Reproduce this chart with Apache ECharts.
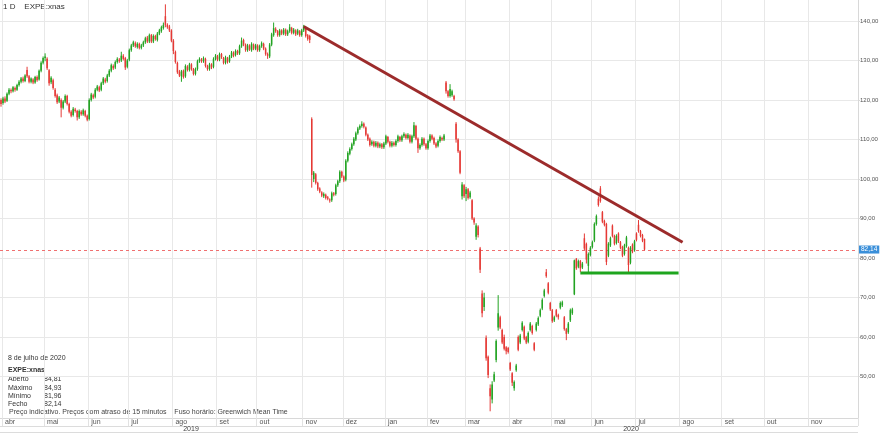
<!DOCTYPE html>
<html>
<head>
<meta charset="utf-8">
<script src="https://cdn.jsdelivr.net/npm/echarts@6/dist/echarts.min.js"></script>
<style>
html,body{margin:0;padding:0;background:#fff;}
#chart{width:880px;height:433px;}
</style>
</head>
<body>
<div id="chart"></div>
<script>
// ---- data: daily candles [open, close, low, high] ----
const mar19 = [[120.0,119.0,118.3,120.4]];
const apr19 = [[119.2,120.4,118.8,120.8],[120.4,119.6,119.2,120.9],[119.8,121.6,119.5,121.9],[121.6,122.6,121.2,123.0],[122.5,122.2,121.7,122.9],[122.2,123.2,121.9,123.5],[123.0,122.6,122.1,123.4],[122.6,123.8,122.3,124.1],[123.8,124.6,123.4,125.0],[124.6,125.4,124.2,125.8],[125.4,124.8,124.4,125.9],[124.8,126.2,124.5,126.5],[127.6,126.0,125.6,128.4],[126.0,124.6,124.2,126.3],[124.6,125.4,124.2,125.7],[125.2,124.4,124.0,125.5],[124.4,125.8,124.1,126.1],[125.8,125.0,124.6,126.2],[125.2,127.4,124.9,127.7],[127.4,129.4,127.0,129.8],[129.4,130.6,129.0,131.0]];
const may19 = [[130.6,131.0,129.8,131.8],[130.4,128.0,127.6,130.8],[127.5,124.2,123.6,127.8],[124.5,125.6,124.0,126.0],[125.0,123.0,122.6,125.4],[122.6,121.0,120.6,123.0],[121.2,119.4,119.0,121.6],[119.6,120.6,119.2,121.0],[120.0,118.0,115.6,120.4],[118.0,119.6,117.6,120.0],[119.6,121.0,119.2,121.4],[121.0,119.0,118.6,121.3],[119.0,117.0,116.6,119.3],[117.0,116.0,115.6,117.4],[116.2,117.8,115.8,118.2],[117.6,117.2,116.8,118.0],[117.2,115.6,114.8,117.5],[115.6,117.2,115.2,117.6],[117.0,116.4,116.0,117.4],[116.4,117.4,116.0,117.8],[117.2,116.0,115.6,117.5],[116.0,115.0,114.6,116.3]];
const jun19 = [[115.2,120.0,114.8,120.4],[120.0,121.4,119.6,121.8],[121.2,120.6,120.2,121.6],[120.8,122.6,120.4,123.0],[122.6,123.4,122.2,123.8],[123.2,122.4,122.0,123.6],[122.6,124.2,122.2,124.6],[124.2,125.4,123.8,125.8],[125.2,124.6,124.2,125.6],[124.8,126.2,124.4,126.6],[126.2,127.4,125.8,127.8],[127.4,128.8,127.0,129.2],[128.6,128.0,127.6,129.0],[128.2,129.6,127.8,130.0],[129.6,130.4,129.2,130.8],[130.2,129.8,129.4,130.6],[130.0,131.2,129.6,132.2],[131.2,130.4,130.0,131.6],[130.6,128.2,127.6,130.9],[128.4,130.0,128.0,130.4]];
const jul19 = [[130.2,132.6,129.8,133.0],[132.6,133.8,132.2,134.2],[133.8,134.6,133.4,135.0],[134.4,133.6,133.2,134.8],[133.4,134.2,133.0,134.6],[134.2,133.2,132.8,134.5],[133.2,133.8,132.8,134.2],[133.8,134.6,133.4,135.0],[134.6,135.6,134.2,136.0],[135.8,134.8,134.4,136.2],[134.8,136.4,134.4,136.8],[136.4,134.8,134.4,136.7],[134.8,136.2,134.4,136.6],[136.2,135.4,135.0,136.5],[135.2,136.8,134.8,137.2],[136.8,137.6,136.4,138.0],[137.4,138.4,137.0,138.8],[138.2,139.0,137.8,139.6],[141.2,139.0,138.4,144.2],[139.0,138.4,138.0,139.4],[138.6,137.6,137.2,139.0],[137.6,135.0,134.6,137.9]];
const aug19 = [[135.0,132.4,131.6,135.4],[132.2,129.6,129.2,132.5],[129.4,127.0,126.6,129.7],[127.2,126.2,125.8,127.6],[126.0,127.2,124.6,127.6],[127.4,125.8,125.4,127.7],[126.0,128.6,125.6,129.0],[128.4,127.6,127.2,128.8],[127.6,129.0,127.2,129.4],[129.0,127.8,127.4,129.3],[127.8,126.6,126.2,128.1],[126.6,127.8,126.2,128.2],[127.8,129.8,127.4,130.2],[129.8,130.4,129.4,130.8],[130.2,129.8,129.4,130.6],[129.8,130.6,129.4,131.0],[130.4,128.6,128.2,130.7],[128.6,127.8,127.4,128.9],[127.8,129.0,127.4,129.4],[129.0,128.2,127.8,129.3],[128.4,130.4,128.0,130.8],[130.4,131.2,130.0,131.6]];
const sep19 = [[131.0,130.2,129.8,131.4],[130.2,131.6,129.8,132.0],[131.6,130.8,130.4,131.9],[130.6,129.4,129.0,130.9],[129.4,130.8,129.0,131.2],[130.6,129.6,129.2,130.9],[129.8,131.0,129.4,131.4],[131.0,132.0,130.6,132.4],[132.0,131.2,130.8,132.3],[131.4,132.4,131.0,132.8],[132.4,131.8,131.4,132.7],[131.8,133.6,131.4,134.0],[133.6,135.0,133.2,135.8],[135.2,134.0,133.6,135.5],[134.0,132.6,132.2,134.3],[132.6,133.8,132.2,134.2],[133.8,132.8,132.4,134.1],[132.6,134.2,132.2,134.6],[134.0,133.0,132.6,134.3],[133.0,133.8,132.6,134.2]];
const oct19 = [[133.8,132.6,132.2,134.1],[132.6,133.6,132.2,134.0],[133.6,134.4,133.2,134.8],[134.2,133.0,132.6,134.5],[133.0,131.6,131.2,133.3],[131.6,131.2,130.4,132.0],[131.0,134.0,130.6,134.4],[134.0,136.6,133.6,137.0],[136.4,138.2,136.0,139.6],[138.0,137.4,137.0,138.4],[137.4,136.4,136.0,137.7],[136.4,137.6,136.0,138.0],[137.6,136.8,136.4,137.9],[136.8,137.8,136.4,138.2],[137.8,136.6,136.2,138.1],[136.6,137.4,136.2,137.8],[137.4,138.4,137.0,139.2],[138.2,137.0,136.6,138.5],[137.0,137.8,136.6,138.2],[137.6,136.6,136.2,137.9],[136.8,137.6,136.4,138.0],[137.4,136.4,136.0,137.7],[136.4,137.6,136.0,138.0]];
const nov19 = [[137.6,138.6,137.2,139.0],[138.2,136.2,135.8,138.5],[136.4,135.4,135.0,136.7],[136.2,135.2,134.4,136.5],[115.2,101.0,97.8,115.6],[100.0,101.6,99.2,102.0],[101.2,99.0,98.6,101.5],[99.0,97.4,97.0,99.3],[97.6,96.8,96.4,97.9],[96.6,95.8,95.4,96.9],[95.6,96.2,95.2,96.6],[96.0,95.2,94.8,96.3],[95.4,95.0,94.6,95.7],[94.8,94.6,94.0,95.1],[94.6,96.4,94.2,96.8],[96.4,96.0,95.6,96.7],[96.2,98.4,95.8,98.8],[98.4,99.4,98.0,99.8],[99.4,101.8,99.0,102.2],[101.8,100.6,100.2,102.1]];
const dec19 = [[100.6,99.6,99.2,100.9],[99.8,104.6,99.4,105.0],[104.6,106.6,104.2,107.0],[106.4,107.6,106.0,108.0],[107.6,108.8,107.2,109.2],[108.8,110.2,108.4,110.6],[110.0,111.6,109.6,112.0],[111.6,112.8,111.2,113.2],[112.8,113.4,112.4,113.8],[113.4,114.0,113.0,114.6],[114.0,113.2,112.8,114.3],[113.0,111.2,110.8,113.3],[111.2,110.0,109.6,111.5],[110.2,108.6,108.2,110.5],[108.8,109.4,108.4,109.8],[109.4,108.4,108.0,109.7],[108.4,109.2,108.0,109.6],[109.2,108.2,107.8,109.5],[108.2,108.8,107.8,109.2],[108.8,108.0,107.6,109.1],[108.0,109.0,107.6,109.4]];
const jan20 = [[109.0,110.8,108.6,111.2],[110.6,109.4,109.0,110.9],[109.4,108.4,108.0,109.7],[108.4,109.2,108.0,109.6],[109.2,108.6,108.2,109.5],[108.6,109.6,108.2,110.0],[109.6,110.8,109.2,111.2],[110.6,109.8,109.4,110.9],[109.8,110.8,109.4,111.2],[110.8,111.4,110.4,111.8],[111.2,110.4,110.0,111.5],[110.4,111.2,110.0,111.6],[111.0,109.4,109.0,111.3],[109.4,110.8,109.0,111.2],[110.8,113.6,110.4,114.4],[113.4,110.2,109.8,113.7],[110.2,107.8,106.6,110.5],[107.8,108.6,107.4,109.0],[108.6,110.2,108.2,110.6],[110.2,108.8,108.4,110.5],[108.8,107.8,107.4,109.1]];
const feb20 = [[107.8,109.6,107.4,110.0],[109.6,111.0,109.2,111.4],[111.0,110.2,109.8,111.3],[110.4,109.0,108.6,110.7],[109.0,108.2,107.8,109.3],[108.4,109.6,108.0,110.0],[109.6,110.6,109.2,111.0],[110.4,110.0,109.6,110.7],[110.0,111.0,109.6,111.4],[124.4,122.2,121.6,124.8],[122.2,121.0,120.6,122.5],[121.0,122.8,120.6,124.0],[121.2,122.2,120.8,122.6],[121.0,120.2,119.8,121.3],[114.0,110.0,109.2,114.4],[110.0,107.0,106.6,110.3],[107.0,101.6,101.2,107.3],[95.6,98.6,94.8,99.2],[98.4,95.6,95.2,98.7]];
const mar20 = [[96.2,97.4,94.4,98.0],[97.4,95.2,94.8,97.7],[95.4,96.6,95.0,97.0],[94.6,90.0,89.6,94.9],[90.0,89.0,88.4,90.3],[85.4,88.2,84.6,88.8],[88.0,85.8,85.2,88.3],[82.4,77.0,76.2,82.8],[71.0,66.0,65.0,71.8],[67.6,70.0,66.6,71.2],[59.8,54.6,54.0,60.4],[55.0,50.4,49.6,55.3],[47.0,45.0,41.2,48.0],[44.2,48.0,43.2,48.8],[49.0,50.6,48.6,51.2],[54.2,59.0,53.6,59.4],[62.4,66.0,61.6,70.6],[65.0,62.4,62.0,65.4],[61.8,58.6,58.2,62.1],[60.0,57.0,56.6,60.6],[57.4,56.4,55.6,57.7],[57.2,56.2,55.8,57.5]];
const apr20 = [[53.4,51.8,51.4,53.7],[50.8,48.4,47.6,51.1],[47.0,48.6,46.4,49.0],[51.6,52.8,51.2,53.2],[60.0,56.8,56.4,60.4],[58.6,60.4,58.2,60.8],[61.8,63.6,61.4,64.0],[62.6,59.6,59.2,62.9],[60.0,58.6,58.2,60.3],[58.8,61.0,58.4,61.4],[61.8,63.4,61.4,63.8],[62.8,61.0,60.6,63.1],[58.4,56.8,56.4,58.7],[61.8,63.4,61.4,63.8],[63.2,64.8,62.8,65.2],[65.4,66.8,65.0,67.2],[67.2,69.4,66.8,69.8],[70.4,71.8,70.0,72.2],[76.4,75.4,75.0,77.2],[73.6,71.2,70.8,73.9],[68.6,67.0,66.6,68.9]];
const may20 = [[66.8,64.0,63.6,67.1],[64.2,65.0,63.8,65.4],[66.8,65.4,65.0,67.1],[65.6,65.0,64.4,65.9],[67.4,68.6,67.0,69.0],[68.0,68.8,67.6,69.2],[65.0,62.0,61.6,65.3],[62.0,60.8,59.2,62.3],[61.2,63.4,60.8,63.8],[64.2,66.8,63.8,67.2],[66.0,67.0,65.6,67.4],[70.8,79.4,70.6,79.6],[79.8,77.4,77.0,80.0],[77.8,79.2,77.4,79.6],[79.2,77.4,76.4,79.5],[77.6,78.6,77.2,79.0],[85.0,82.4,82.0,86.2],[83.6,79.6,78.6,83.9],[78.0,81.0,76.4,81.4],[80.8,82.6,80.4,83.0]];
const jun20 = [[82.8,84.0,82.4,84.4],[84.4,88.6,84.0,89.0],[88.6,90.6,88.2,91.0],[95.0,93.4,93.0,95.6],[97.6,94.4,94.0,98.2],[91.6,89.2,88.8,91.9],[89.4,88.4,88.0,89.7],[88.6,79.0,78.2,88.9],[80.6,83.6,80.2,84.0],[83.2,85.0,82.8,85.4],[88.2,85.6,85.2,88.5],[85.6,83.6,83.2,85.9],[83.8,85.6,83.4,86.0],[86.2,84.2,83.8,86.5],[84.0,82.6,82.2,84.3],[82.8,80.6,80.2,83.1],[81.0,83.2,80.6,83.6],[83.0,85.2,82.6,85.6],[82.6,78.2,76.2,82.9],[78.8,82.6,78.4,83.0],[83.4,81.6,81.2,83.7],[82.0,84.2,81.6,84.6]];
const jul20 = [[86.2,84.6,84.2,86.5],[88.4,86.8,86.4,89.6],[86.8,85.6,85.2,87.1],[85.8,84.4,84.0,86.1],[84.81,82.14,81.96,84.93]];

// trading calendar
const startDate = '2019-03-29';
const axisDays = 428;
const holidays = ['2019-04-19','2019-05-27','2019-07-04','2019-09-02','2019-11-28','2019-12-25','2020-01-01','2020-01-20','2020-02-17','2020-04-10','2020-05-25','2020-07-03','2020-09-07','2020-11-26','2020-12-25'];
const monthNames = ['jan','fev','mar','abr','mai','jun','jul','ago','set','out','nov','dez'];
const yTicks = [50,60,70,80,90,100,110,120,130,140];

// overlays
const lastPrice = 82.14;
const trendLine = [['2019-11-01',138.6],['2020-08-04',84.0]];
const supportLine = [['2020-05-21',76.2],['2020-07-31',76.2]];

// info panel
const infoDate = '8 de julho de 2020';
const infoSymbol = 'EXPE:xnas';
const infoLabels = ['Aberto','Máximo','Mínimo','Fecho'];
const infoValues = ['84,81','84,93','81,96','82,14'];
const footNote = 'Preço indicativo. Preços com atraso de 15 minutos    Fuso horário: Greenwich Mean Time';
const titleText = '1 D    EXPE:xnas';
const yearLabels = ['2019','2020'];

const UP = '#22a322', DOWN = '#e53935';
const candles = [].concat(mar19,apr19,may19,jun19,jul19,aug19,sep19,oct19,nov19,dec19,jan20,feb20,mar20,apr20,may20,jun20,jul20);
const candleRows = candles.map((c, i) => [i, c[0], c[1], c[2], c[3]]);

function buildDays(){
  const out = [];
  const d = new Date(startDate + 'T00:00:00Z');
  while (out.length < axisDays) {
    const wd = d.getUTCDay();
    const s = d.toISOString().slice(0,10);
    if (wd !== 0 && wd !== 6 && holidays.indexOf(s) < 0) out.push(s);
    d.setUTCDate(d.getUTCDate() + 1);
  }
  return out;
}
const days = buildDays();
function isMonthStart(i){
  return i > 0 && days[i].slice(5,7) !== days[i-1].slice(5,7) && days[i] < '2020-12-01';
}

const FONT = 'Liberation Sans, Arial, sans-serif';
const fmt = v => v.toFixed(2).replace('.', ',');

function renderCandle(params, api){
  const i = api.value(0);
  const o = api.value(1), c = api.value(2), l = api.value(3), h = api.value(4);
  const pO = api.coord([i, o]), pC = api.coord([i, c]);
  const pL = api.coord([i, l]), pH = api.coord([i, h]);
  const band = api.size([1, 0])[0];
  const bw = band * 0.75;
  const xc = pO[0];
  const col = c >= o ? UP : DOWN;
  const top = Math.min(pO[1], pC[1]);
  const bot = Math.max(pO[1], pC[1]);
  return {
    type:'group',
    children:[
      {type:'line', shape:{x1:xc, y1:pH[1], x2:xc, y2:pL[1]}, style:{stroke:col, lineWidth:1}},
      {type:'rect', shape:{x:xc - bw/2, y:top, width:bw, height:Math.max(bot - top, 1)}, style:{fill:col}}
    ]
  };
}

// dashed last-price line drawn through the value axis
function renderPriceLine(params, api){
  const y = Math.round(api.coord([0, api.value(1)])[1]) + 0.5;
  const x0 = params.coordSys.x, x1 = params.coordSys.x + params.coordSys.width;
  return {type:'line', shape:{x1:x0, y1:y, x2:x1, y2:y},
    style:{stroke:'#f07070', lineWidth:1, lineDash:[3,3]}};
}

const chart = echarts.init(document.getElementById('chart'), null, {renderer:'canvas'});

const g = [];
g.push({type:'text', left:3, top:3, style:{text:titleText, font:'8px '+FONT, fill:'#333'}});
g.push({type:'text', left:8, top:355, style:{text:infoDate, font:'7px '+FONT, fill:'#333'}});
g.push({type:'text', left:8, top:367, style:{text:infoSymbol, font:'bold 7px '+FONT, fill:'#333'}});
infoLabels.forEach((l, k) => {
  g.push({type:'text', left:8, top:376 + k*8.3, style:{text:l, font:'7px '+FONT, fill:'#333'}});
  g.push({type:'text', left:44, top:376 + k*8.3, style:{text:infoValues[k], font:'7px '+FONT, fill:'#333'}});
});
g.push({type:'text', left:9, top:409, style:{text:footNote, font:'7px '+FONT, fill:'#444'}});
g.push({type:'line', shape:{x1:0,y1:426.5,x2:858,y2:426.5}, style:{stroke:'#dcdcdc', lineWidth:1}});
g.push({type:'line', shape:{x1:0,y1:432.5,x2:858,y2:432.5}, style:{stroke:'#dcdcdc', lineWidth:1}});
g.push({type:'text', x:191, y:426, style:{text:yearLabels[0], font:'7px '+FONT, fill:'#444', align:'center'}});
g.push({type:'text', x:631, y:426, style:{text:yearLabels[1], font:'7px '+FONT, fill:'#444', align:'center'}});

chart.setOption({
  animation: false,
  backgroundColor: '#fff',
  grid: {left:0, right:22, top:0, bottom:15, outerBoundsMode:'none', containLabel:false},
  xAxis: {
    type:'category', data: days, boundaryGap: true,
    axisLine:{show:true, lineStyle:{color:'#d8d8d8'}},
    axisTick:{show:true, length:8, interval:(i)=>isMonthStart(i), lineStyle:{color:'#e2e2e2'}},
    splitLine:{show:true, interval:(i)=>isMonthStart(i), lineStyle:{color:'#e8e8e8', width:1}},
    axisLabel:{show:true, interval:(i)=>isMonthStart(i), align:'left', margin:1, padding:[0,0,0,2],
      fontSize:7, fontFamily:FONT, color:'#555',
      formatter:(v)=>monthNames[parseInt(v.slice(5,7),10)-1]}
  },
  yAxis: [{
    type:'value', position:'right', min:39.5, max:145.3, scale:true,
    axisLine:{show:true, lineStyle:{color:'#d8d8d8'}},
    axisTick:{show:true, length:2, customValues:yTicks, lineStyle:{color:'#d8d8d8'}},
    splitLine:{show:true, lineStyle:{color:'#e8e8e8', width:1}},
    axisLabel:{show:true, customValues:yTicks, margin:2, fontSize:6, fontFamily:FONT, color:'#555', formatter:(v)=>fmt(v)}
  },{
    type:'value', position:'right', min:39.5, max:145.3, scale:true,
    axisLine:{show:false}, splitLine:{show:false},
    axisTick:{show:false, customValues:[lastPrice]},
    axisLabel:{show:true, customValues:[lastPrice], margin:1, fontSize:6.5, fontFamily:FONT, color:'#fff',
      backgroundColor:'#3a8fd9', padding:[1,2,0,2], formatter:(v)=>fmt(v)}
  }],
  series: [{
    type:'custom',
    data:[[0, lastPrice]],
    encode:{x:0, y:1},
    renderItem: renderPriceLine,
    silent:true, z:2
  },{
    type:'custom',
    name:'EXPE',
    data: candleRows,
    encode:{x:0, y:[1,2,3,4]},
    renderItem: renderCandle,
    silent:true,
    z:3
  },{
    type:'line',
    data:trendLine,
    symbol:'none', silent:true, z:4,
    lineStyle:{color:'#9c2b2b', width:3}
  },{
    type:'line',
    data:supportLine,
    symbol:'none', silent:true, z:4,
    lineStyle:{color:'#1ea51e', width:3}
  }],
  graphic: g
});
</script>
</body>
</html>
